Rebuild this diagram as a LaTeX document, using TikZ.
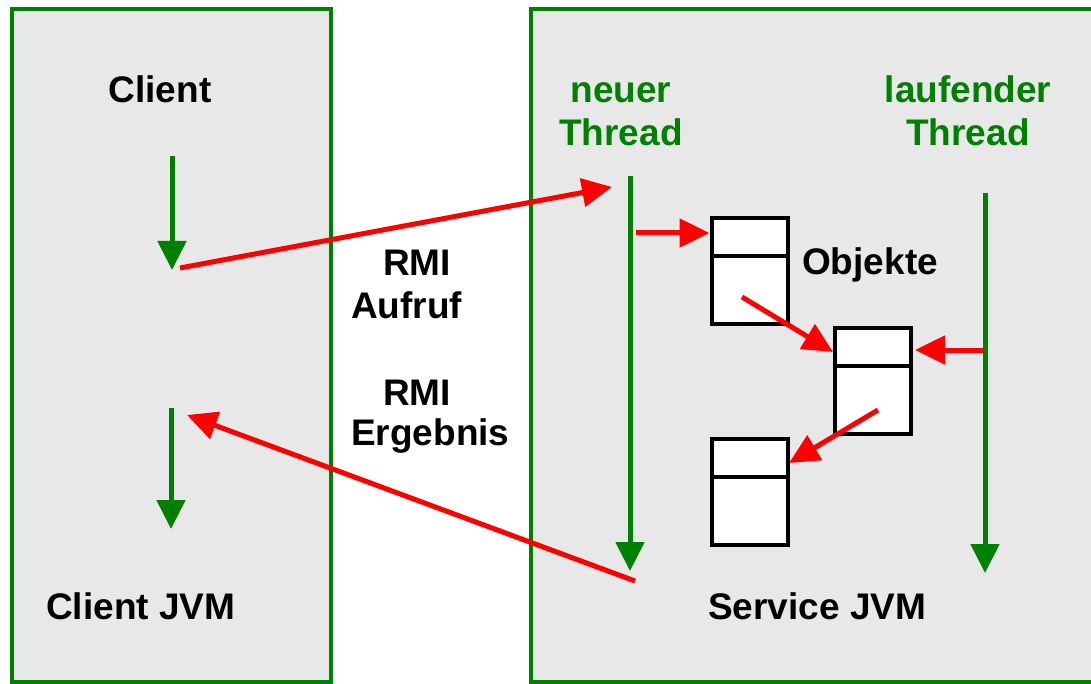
\documentclass[tikz,border=0pt]{standalone}
\usepackage{fontspec}
\setmainfont{Liberation Sans}
\usetikzlibrary{arrows.meta}
\definecolor{jvmgreen}{HTML}{008000}
\definecolor{jvmgray}{HTML}{E8E8E8}
\definecolor{callred}{HTML}{FF0000}

\begin{document}
\begin{tikzpicture}[x=1pt,y=-1pt,
  panel/.style={fill=jvmgray, draw=jvmgreen, line width=4pt},
  lbl/.style={font=\fontsize{37}{42}\selectfont\bfseries, inner sep=0pt, anchor=base},
  lblw/.style={lbl, anchor=base west},
  thr/.style={lbl, text=jvmgreen},
  flow/.style={draw=jvmgreen, line width=5pt, -{Triangle[length=29pt,width=28pt]}},
  call/.style={draw=callred, line width=5pt, -{Triangle[length=30pt,width=28pt]}},
  obj/.style={draw=black, fill=white, line width=4pt, minimum width=76pt, minimum height=106pt, inner sep=0pt},
  divider/.style={draw=black, line width=4pt}
]
\useasboundingbox (0,0) rectangle (1091,684);
\clip (0,0) rectangle (1091,684);

% the two virtual machines
\path[panel] (12,9) rectangle (331,682);
\path[panel] (531,9) rectangle (1100,682);

% labels
\node[lbl] (client) at (160,103) {Client};
\node[lblw] (clientjvm) at (46,619) {Client JVM};
\node[lblw] (servicejvm) at (708,619) {Service JVM};
\node[thr] (neu1) at (621,103) {neuer};
\node[thr] (neu2) at (621,146) {Thread};
\node[thr] (lauf1) at (968,103) {laufender};
\node[thr] (lauf2) at (968,146) {Thread};
\node[lblw] (rmi1) at (383,276) {RMI};
\node[lblw] (aufruf) at (351,318) {Aufruf};
\node[lblw] (rmi2) at (383,405) {RMI};
\node[lblw] (ergebnis) at (351,445) {Ergebnis};
\node[lblw] (objekte) at (802,275) {Objekte};

% objects on the service side
\node[obj] (o1) at (749.5,271) {};
\node[obj] (o2) at (872.5,380.5) {};
\node[obj] (o3) at (749.5,492) {};
\draw[divider] (o1.west |- 0,256) -- (o1.east |- 0,256);
\draw[divider] (o2.west |- 0,366) -- (o2.east |- 0,366);
\draw[divider] (o3.west |- 0,477) -- (o3.east |- 0,477);

% thread control flow
\coordinate (c1s) at (172,156);
\coordinate (c1e) at (172,270);
\coordinate (c2s) at (171,408);
\coordinate (c2e) at (171,529);
\coordinate (nts) at (630,176);
\coordinate (nte) at (630,571);
\coordinate (lts) at (985,193);
\coordinate (lte) at (985,573);
\draw[flow] (c1s) -- (c1e);
\draw[flow] (c2s) -- (c2e);
\draw[flow] (nts) -- (nte);
\draw[flow] (lts) -- (lte);

% remote calls and object calls
\coordinate (callfrom) at (180,268);
\coordinate (callto) at (612,187);
\coordinate (retfrom) at (635,581);
\coordinate (retto) at (187,415);
\coordinate (n1) at (636,233);
\coordinate (m1) at (742,297);
\coordinate (l1) at (983,350);
\coordinate (m2) at (878,410);
\draw[call] (callfrom) -- (callto);
\draw[call] (retfrom) -- (retto);
\draw[call] (n1) -- (o1.west |- n1);
\draw[call] (m1) -- (833,352);
\draw[call] (l1) -- (915,350);
\draw[call] (m2) -- (789,463);
\end{tikzpicture}
\end{document}
